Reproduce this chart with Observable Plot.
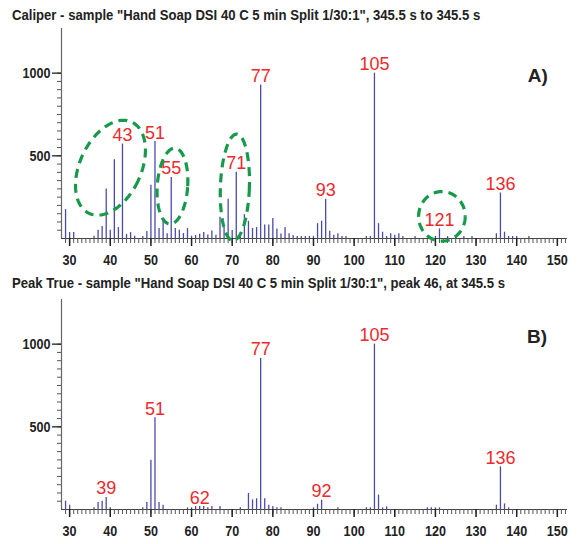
<!DOCTYPE html>
<html><head><meta charset="utf-8">
<script src="https://cdn.jsdelivr.net/npm/d3@7"></script>
<script src="https://cdn.jsdelivr.net/npm/@observablehq/plot@0.6"></script>
<style>
body{margin:0;background:#fff;}
#wrap{position:relative;width:581px;height:544px;overflow:hidden;}
.title{position:absolute;left:12px;font-family:"Liberation Sans",Arial,sans-serif;font-weight:bold;font-size:15px;line-height:17px;color:#222;white-space:nowrap;transform-origin:0 50%;}
.pl{position:absolute;left:0;}
</style></head><body>
<div id="wrap">
  <div class="title" id="tA" style="top:6px"></div>
  <div class="pl" id="pA" style="top:26px"></div>
  <div class="title" id="tB" style="top:274px"></div>
  <div class="pl" id="pB" style="top:297px"></div>
</div>
<script>
// ---- Data ----
const titleA = 'Caliper - sample "Hand Soap DSI 40 C 5 min Split 1/30:1", 345.5 s to 345.5 s';
const titleB = 'Peak True - sample "Hand Soap DSI 40 C 5 min Split 1/30:1", peak 46, at 345.5 s';

const mzA = [29,30,31,36,37,38,39,40,41,42,43,44,45,46,48,49,50,51,52,53,54,55,56,57,58,59,60,61,62,63,64,65,66,67,68,69,70,71,72,73,74,75,76,77,78,79,80,81,82,83,84,85,86,87,88,89,90,91,92,93,94,95,96,97,98,103,104,105,106,107,108,109,110,111,112,115,120,121,123,125,127,129,135,136,137,138,139,140,143];
const intA = [175,36,36,14,50,73,300,50,477,66,571,25,36,14,12,43,322,586,60,110,28,369,60,50,30,60,14,18,26,37,21,45,20,128,67,237,49,400,10,144,104,61,66,928,82,82,121,58,27,66,28,18,12,12,12,13,13,90,104,237,44,20,28,12,12,12,12,1000,90,38,12,28,20,28,12,12,12,58,12,12,12,12,29,275,38,12,12,12,12];
const labelsA = [43,51,55,71,77,93,105,121,136];

const mzB = [29,30,36,37,38,39,40,48,49,50,51,52,53,59,60,61,62,63,64,65,67,72,74,75,76,77,78,79,80,81,82,90,91,92,96,103,104,105,106,107,108,118,119,120,121,135,136,137,138];
const intB = [50,26,10,42,50,73,10,10,42,298,555,42,26,10,10,18,18,18,10,18,18,10,97,58,65,914,65,26,18,10,10,10,32,56,10,10,10,1000,87,10,16,10,10,10,10,26,258,34,10];
const labelsB = [39,51,62,77,92,105,136];

const xTicks = [30,40,50,60,70,80,90,100,110,120,130,140,150];
const yTicks = [500,1000];

// annotation ellipses (panel A): centre in data units, semi-axes in px, rotation deg
const ellCx = [40.05, 55.3, 70.66, 121.6];
const ellCy = [428, 317, 309, 134];
const ellA  = [30.6, 15.2, 14.5, 23.3];
const ellB  = [50.4, 38.0, 53.3, 24.8];
const ellRot = [25, 4, 2, 0];

const tagA = {t:"A)", x:145.2, y:986};
const tagB = {t:"B)", x:145.0, y:1046};

// ---- Layout ----
const W = 581, H = 244, ML = 61, MR = 14, MT = 2, MB = 32;
const XD = [28, 152.5], YD = [0, 1270];
const KX = (W-ML-MR)/(XD[1]-XD[0]), KY = (H-MT-MB)/(YD[1]-YD[0]);
const SANS = '"Liberation Sans",Arial,sans-serif';
const TITLE_END = 505; // right edge of the longer title, px

function ellipsePoints() {
  const pts = [];
  ellCx.forEach((cx,i) => {
    const th = ellRot[i]*Math.PI/180;
    for (let k=0;k<=120;k++){
      const t = k/120*2*Math.PI;
      const px = ellA[i]*Math.cos(t), py = ellB[i]*Math.sin(t);
      const rx = px*Math.cos(th) - py*Math.sin(th);
      const ry = px*Math.sin(th) + py*Math.cos(th);
      pts.push({id:i, x: cx + rx/KX, y: ellCy[i] - ry/KY});
    }
  });
  return pts;
}

function condense(svg, sel, s){
  svg.querySelectorAll(sel).forEach(t=>{
    const tr = t.getAttribute("transform");
    if (tr) t.setAttribute("transform", tr+` scale(${s},1)`);
    else {
      const x=+t.getAttribute("x")||0, y=+t.getAttribute("y")||0;
      t.removeAttribute("x"); t.removeAttribute("y");
      t.setAttribute("transform",`translate(${x},${y}) scale(${s},1)`);
    }
  });
}

function panel(mz, inten, labels, tag, withEll) {
  const bars = mz.map((m,i)=>({mz:m, v:inten[i]}));
  const lab = labels.map(m=>({mz:m, v:inten[mz.indexOf(m)], t:String(m)}));
  const marks = [
    Plot.ruleX(bars, {x:"mz", y1:0, y2:"v", stroke:"#4a4aae", strokeWidth:1.3}),
    Plot.ruleY([0], {stroke:"#444", strokeWidth:1.2}),
    Plot.ruleX([XD[0]], {stroke:"#666", strokeWidth:1.2}),
    Plot.axisX(d3.range(29,153), {tickSize:5, tickFormat:()=>"", stroke:"#555", strokeWidth:1}),
    Plot.axisX(xTicks, {tickSize:8, tickPadding:8, tickFormat:d=>String(d), stroke:"#222", strokeWidth:1.5, fontSize:15, fontWeight:"bold", fontFamily:SANS, fill:"#222"}),
    Plot.axisY(d3.range(50,1001,50), {tickSize:4, tickFormat:()=>"", stroke:"#555"}),
    Plot.axisY(yTicks, {tickSize:9, tickPadding:2, tickFormat:d=>String(d), stroke:"#222", strokeWidth:1.3, fontSize:15, fontWeight:"bold", fontFamily:SANS, fill:"#222"}),
    Plot.text(lab, {x:"mz", y:"v", text:"t", dy:-3, lineAnchor:"bottom", fill:"#ec2a2e", fontSize:18, fontFamily:SANS, ariaLabel:"peak label"}),
    Plot.text([tag], {x:"x", y:"y", text:"t", lineAnchor:"middle", fontSize:19, fontWeight:"bold", fontFamily:SANS, fill:"#222", ariaLabel:"panel tag"})
  ];
  if (withEll) marks.push(Plot.line(ellipsePoints(), {x:"x", y:"y", z:"id", stroke:"#169a4a", strokeWidth:3.2, strokeDasharray:"9,6", strokeLinecap:"butt"}));
  const svg = Plot.plot({
    width: W, height: H, marginLeft: ML, marginRight: MR, marginTop: MT, marginBottom: MB,
    x: {domain: XD},
    y: {domain: YD},
    style: {background:"transparent", overflow:"visible"},
    marks
  });
  condense(svg, 'g[aria-label="x-axis tick label"] text, g[aria-label="y-axis tick label"] text', 0.84);
  condense(svg, 'g[aria-label="peak label"] text', 0.8);
  return svg;
}

const tA = document.getElementById("tA"), tB = document.getElementById("tB");
tA.textContent = titleA;
tB.textContent = titleB;
const s = (TITLE_END - 12) / tB.getBoundingClientRect().width;
tA.style.transform = `scaleX(${s})`;
tB.style.transform = `scaleX(${s})`;
document.getElementById("pA").append(panel(mzA, intA, labelsA, tagA, true));
document.getElementById("pB").append(panel(mzB, intB, labelsB, tagB, false));
</script>
</body></html>
